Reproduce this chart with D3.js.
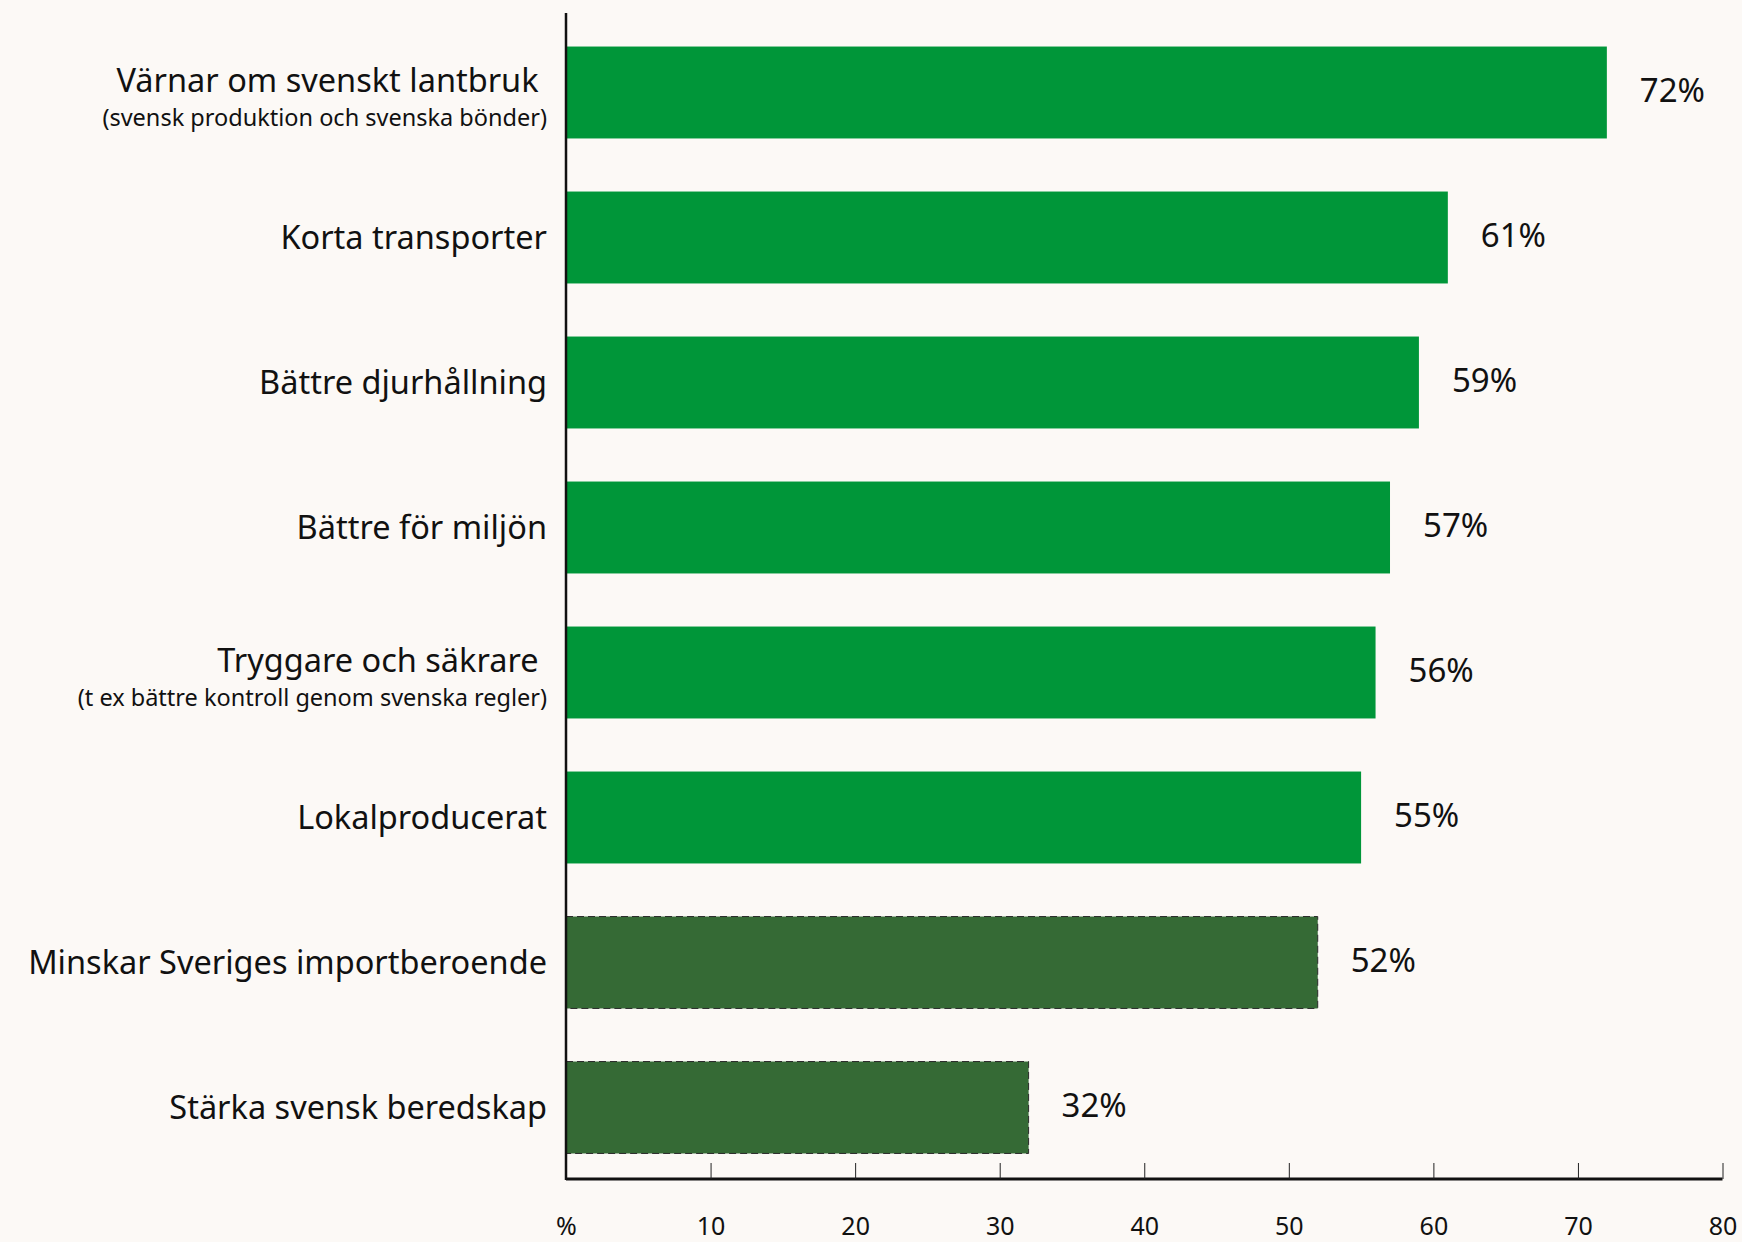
<!DOCTYPE html>
<html>
<head>
<meta charset="utf-8">
<script src="https://cdn.jsdelivr.net/npm/d3@7"></script>
<style>
  body { margin: 0; background: #fcf9f6; }
  text { font-family: "Noto Sans", sans-serif; fill: #111; }
</style>
</head>
<body>
<div id="chart"></div>
<script>
// categories (main line + optional second line) and values in %
var labels = ["Värnar om svenskt lantbruk ", "Korta transporter", "Bättre djurhållning", "Bättre för miljön",
  "Tryggare och säkrare ", "Lokalproducerat", "Minskar Sveriges importberoende", "Stärka svensk beredskap"];
var subLabels = ["(svensk produktion och svenska bönder)", "", "", "", "(t ex bättre kontroll genom svenska regler)", "", "", ""];
var values = [72, 61, 59, 57, 56, 55, 52, 32];
// last two bars are drawn dark with dashed outline
var dark = [false, false, false, false, false, false, true, true];
var tickValues = [0, 10, 20, 30, 40, 50, 60, 70, 80];
var tickLabels = ["%", "10", "20", "30", "40", "50", "60", "70", "80"];

var width = 1742, height = 1242;
var margin = {top: 20, right: 20, bottom: 62, left: 566};

var svg = d3.select("#chart").append("svg")
  .attr("width", width)
  .attr("height", height)
  .style("background", "#fcf9f6");

var x = d3.scaleLinear()
  .domain([0, 80])
  .range([margin.left, 1722.5]);

var y = d3.scaleBand()
  .domain(d3.range(labels.length))
  .range([margin.top, height - margin.bottom])
  .paddingInner(0.366)
  .paddingOuter(0.183);

// bars
svg.append("g").selectAll("rect")
  .data(values)
  .enter().append("rect")
    .attr("x", x(0))
    .attr("y", function(d, i) { return y(i); })
    .attr("width", function(d) { return x(d) - x(0); })
    .attr("height", y.bandwidth())
    .attr("fill", function(d, i) { return dark[i] ? "#356a35" : "#009639"; })
    .attr("stroke", function(d, i) { return dark[i] ? "#2a2a2a" : "none"; })
    .attr("stroke-width", 1)
    .attr("stroke-dasharray", "7,4");

// value labels
svg.append("g").selectAll("text")
  .data(values)
  .enter().append("text")
    .attr("x", function(d) { return x(d) + 33; })
    .attr("y", function(d, i) { return y(i) + y.bandwidth() / 2 - 2; })
    .attr("dy", "0.35em")
    .attr("font-size", 33)
    .text(function(d) { return d + "%"; });

// category labels
var lab = svg.append("g").selectAll("g")
  .data(labels)
  .enter().append("g");

lab.append("text")
  .attr("x", 547)
  .attr("y", function(d, i) { return y(i) + y.bandwidth() / 2 + (subLabels[i] ? -12 : 0); })
  .attr("dy", "0.35em")
  .attr("text-anchor", "end")
  .attr("font-size", 32.5)
  .style("white-space", "pre")
  .text(function(d) { return d; });

lab.append("text")
  .attr("x", 547)
  .attr("y", function(d, i) { return y(i) + y.bandwidth() / 2 + 25; })
  .attr("dy", "0.35em")
  .attr("text-anchor", "end")
  .attr("font-size", 23.5)
  .text(function(d, i) { return subLabels[i]; });

// x axis: ticks point upward, labels well below
var xAxis = d3.axisBottom(x)
  .tickValues(tickValues)
  .tickSize(-16)
  .tickFormat(function(d, i) { return tickLabels[i]; });

var gx = svg.append("g")
  .attr("transform", "translate(0," + 1179 + ")")
  .call(xAxis);
gx.select(".domain").attr("stroke", "#111").attr("stroke-width", 3).attr("d", "M" + x(0) + ",0H" + x(80));
gx.selectAll(".tick line").attr("stroke", "#222").attr("stroke-width", 1);
gx.selectAll(".tick text")
  .attr("y", 56)
  .attr("dy", "0")
  .attr("font-size", 25)
  .attr("fill", "#111")
  .attr("font-family", "Noto Sans, sans-serif");

// y axis line
svg.append("line")
  .attr("x1", x(0)).attr("x2", x(0))
  .attr("y1", 13).attr("y2", 1180)
  .attr("stroke", "#111")
  .attr("stroke-width", 2.5);
</script>
</body>
</html>
